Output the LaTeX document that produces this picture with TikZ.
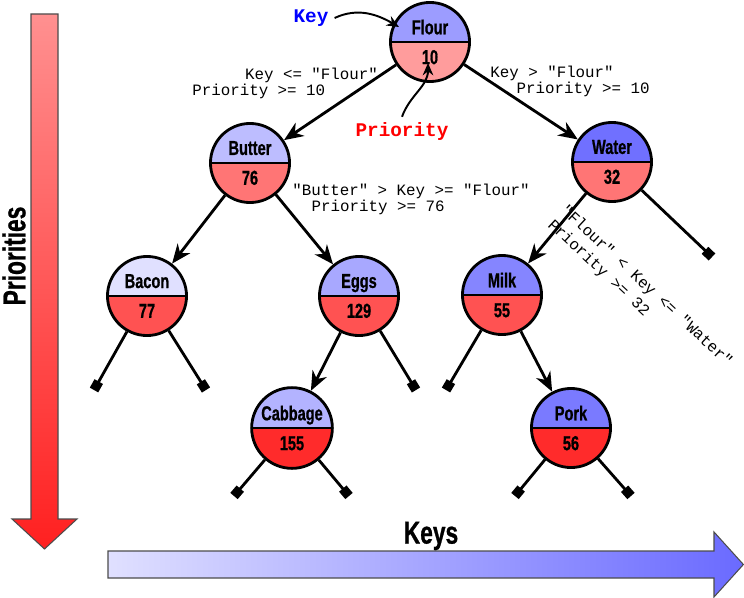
\documentclass[tikz,border=0pt]{standalone}
\usepackage{fontspec}
\setmonofont{Liberation Mono}
\newfontfamily\condfont[FakeStretch=0.72,BoldFeatures={FakeBold=0.8}]{Liberation Sans}
\usetikzlibrary{arrows.meta}
\definecolor{kBacon}{HTML}{E0E0FF}
\definecolor{kButter}{HTML}{BDBDFF}
\definecolor{kCabbage}{HTML}{B3B3FF}
\definecolor{kEggs}{HTML}{A8A8FF}
\definecolor{kFlour}{HTML}{9C9CFF}
\definecolor{kMilk}{HTML}{8585FF}
\definecolor{kPork}{HTML}{7A7AFF}
\definecolor{kWater}{HTML}{7070FF}
\definecolor{pA}{HTML}{FF9C9C}
\definecolor{pB}{HTML}{FF7575}
\definecolor{pC}{HTML}{FF5252}
\definecolor{pD}{HTML}{FF2B2B}
\definecolor{prioTop}{HTML}{FF9090}
\definecolor{prioBot}{HTML}{FF2020}
\definecolor{keyLeft}{HTML}{E0E0FF}
\definecolor{keyRight}{HTML}{6A6AFF}

\begin{document}
\begin{tikzpicture}[x=0.02cm,y=-0.02cm,
  treap/.style 2 args={circle,draw,line width=1.6pt,minimum size=45pt,inner sep=1pt,align=center,
    font=\condfont\bfseries\fontsize{11.5}{17}\selectfont,
    path picture={\fill[#1] (path picture bounding box.north west) rectangle (path picture bounding box.east);
      \fill[#2] (path picture bounding box.west) rectangle (path picture bounding box.south east);
      \draw[line width=1.6pt] (path picture bounding box.west) -- (path picture bounding box.east);}},
  tree/.style={line width=1.6pt,-{Stealth[length=11pt,width=9pt,inset=3.5pt]}},
  leaf/.style={line width=1.6pt,-{Square[length=5.5pt,width=5.5pt]}},
  cond/.style={font=\ttfamily\fontsize{9}{9}\selectfont,align=left,inner sep=0pt,anchor=north west},
  axis/.style={font=\condfont\bfseries\fontsize{18}{18}\selectfont},
  pointer/.style={line width=1.1pt,-{Stealth[length=7pt,width=6pt]}},
  bigarrow/.style={draw=black!70,line width=0.6pt}]
\useasboundingbox (0,0) rectangle (744,598);
% axes
\shadedraw[bigarrow,top color=prioTop,bottom color=prioBot] (31,14) -- (58,14) -- (58,519)
  -- (77,519) -- (44.5,549) -- (12,519) -- (31,519) -- cycle;
\shadedraw[bigarrow,left color=keyLeft,right color=keyRight] (108,551) -- (714,551) -- (714,532)
  -- (743.4,564.5) -- (714,597) -- (714,578) -- (108,578) -- cycle;
\node[axis,rotate=90] (prios) at (14,256) {Priorities};
\node[axis] (keys) at (431,536) {Keys};

\node[treap={kFlour}{pA}] (flour) at (430,42) {Flour\\10};
\node[treap={kButter}{pB}] (butter) at (250,163) {Butter\\76};
\node[treap={kWater}{pB}] (water) at (612,162) {Water\\32};
\node[treap={kBacon}{pC}] (bacon) at (147,296) {Bacon\\77};
\node[treap={kEggs}{pC}] (eggs) at (359,296) {Eggs\\129};
\node[treap={kMilk}{pC}] (milk) at (502,295) {Milk\\55};
\node[treap={kCabbage}{pD}] (cabbage) at (292,428) {Cabbage\\155};
\node[treap={kPork}{pD}] (pork) at (571,428) {Pork\\56};

\foreach \a/\b in {flour/butter,flour/water,butter/bacon,butter/eggs,eggs/cabbage,water/milk,milk/pork}
  \draw[tree] (\a) -- (\b);
\foreach \a/\n/\x/\y in {bacon/baconL/94/390,bacon/baconR/206/390,eggs/eggsR/416/390,
    milk/milkL/446/390,water/waterR/712/257,cabbage/cabbageL/234/496,cabbage/cabbageR/349/496,
    pork/porkL/515/496,pork/porkR/631/496}
  {\coordinate (\n) at (\x,\y); \draw[leaf] (\a) -- (\n);}

% conditions on the edges
\node[cond] (condFB) at (192,68) {\hspace*{30pt}Key <= "Flour"\\Priority >= 10};
\node[cond] (condFW) at (490,66) {Key > "Flour"\\\hspace*{15pt}Priority >= 10};
\node[cond] (condBE) at (292,184) {"Butter" > Key >= "Flour"\\\hspace*{11pt}Priority >= 76};
\node[cond,rotate=-43,font=\ttfamily\fontsize{9}{11}\selectfont] (condWM) at (568,203)
  {"Flour" < Key <= "Water"\\Priority >= 32};

\node[font=\ttfamily\bfseries\fontsize{11}{11}\selectfont,text=blue] (keylbl) at (311,18) {Key};
\node[font=\ttfamily\bfseries\fontsize{11}{11}\selectfont,text=red] (priolbl) at (402,132) {Priority};
\coordinate (keytip) at (399,27);
\coordinate (priotip) at (428,63);
\draw[pointer] (keylbl.east) to[out=25,in=150] (keytip);
\draw[pointer] (priolbl.north) to[out=70,in=-90] (priotip);
\end{tikzpicture}
\end{document}
